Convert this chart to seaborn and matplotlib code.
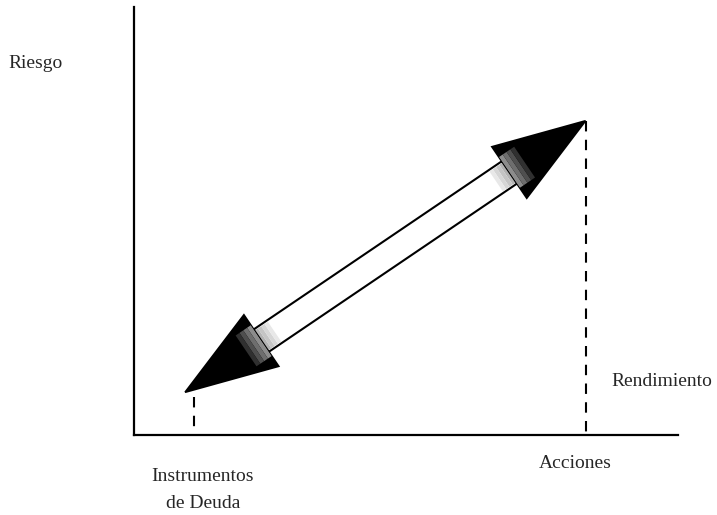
import numpy as np
import pandas as pd
import matplotlib
matplotlib.use('Agg')
import matplotlib.pyplot as plt
import seaborn as sns
from matplotlib.patches import Polygon
from matplotlib.transforms import IdentityTransform

# datos del esquema riesgo / rendimiento
categorias = ["Instrumentos\nde Deuda", "Acciones"]
rendimiento = [1.1, 8.3]      # posicion en el eje x
riesgo = [1.0, 7.34]          # altura de la punta de la flecha
flecha_x = [0.94, 8.3]        # puntas de la flecha doble

sns.set_style("white")
plt.rcParams['font.family'] = ['Liberation Serif', 'DejaVu Serif']

W, H = 717, 515
fig = plt.figure(figsize=(W / 100, H / 100), dpi=100)
ax = fig.add_axes([134 / W, 80 / H, 544 / W, 428 / H])
ax.set_xlim(0, 10)
ax.set_ylim(0, 10)
for s in ["top", "right"]:
    ax.spines[s].set_visible(False)
for s in ["left", "bottom"]:
    ax.spines[s].set_linewidth(1.6)
    ax.spines[s].set_color("black")
ax.set_yticks([])
ax.set_xticks([])

# lineas guia punteadas
guias = pd.DataFrame({
    "x": [rendimiento[0], rendimiento[0], rendimiento[1], rendimiento[1]],
    "y": [riesgo[0] - 0.12, 0.1, riesgo[1], 0.0],
    "g": ["a", "a", "b", "b"],
})
for g, d in guias.groupby("g"):
    sns.lineplot(data=d, x="x", y="y", ax=ax, color="black", lw=1.5,
                 linestyle=(0, (5, 4)), sort=False, estimator=None)
ax.set_xlabel("")
ax.set_ylabel("")

fs = 14
fig.text(8 / W, 1 - 64 / H, "Riesgo", fontsize=fs, va="center")
fig.text(611 / W, 1 - 381 / H, "Rendimiento", fontsize=fs, va="center")
fig.text(203 / W, 1 - 490 / H, categorias[0], fontsize=fs, va="center",
         ha="center", linespacing=1.8)
fig.text(575 / W, 1 - 463 / H, categorias[1], fontsize=fs, va="center", ha="center")

# flecha doble (construida en pixeles a partir de los datos)
fig.canvas.draw()
A = ax.transData.transform((flecha_x[0], riesgo[0]))
B = ax.transData.transform((flecha_x[1], riesgo[1]))
u = (B - A) / np.linalg.norm(B - A)
n = np.array([-u[1], u[0]])
h, w, sw = 92, 31, 13.5
idt = IdentityTransform()

shaft = np.array([A + h * u + sw * n, B - h * u + sw * n,
                  B - h * u - sw * n, A + h * u - sw * n])
ax.add_patch(Polygon(shaft, closed=True, facecolor="white", edgecolor="black",
                     lw=1.5, transform=idt, clip_on=False, zorder=3))
for tip, d in [(A, u), (B, -u)]:
    base = tip + h * d
    # brillo gris en el cuerpo detras de la cabeza
    for k in range(4):
        a0, a1 = 4 * k, 4 * (k + 1)
        glow = np.array([base + a0 * d + (sw - 1.5) * n, base + a1 * d + (sw - 1.5) * n,
                         base + a1 * d - (sw - 1.5) * n, base + a0 * d - (sw - 1.5) * n])
        c = 0.7 + 0.07 * k
        ax.add_patch(Polygon(glow, closed=True, facecolor=(c, c, c), edgecolor="none",
                             transform=idt, clip_on=False, zorder=3.5))
    tri = np.array([tip, base + w * n, base - w * n])
    head = Polygon(tri, closed=True, facecolor="black", edgecolor="black",
                   lw=1.3, transform=idt, clip_on=False, zorder=4)
    ax.add_patch(head)
    # sombreado gris cerca de la base de la cabeza
    for k in range(4):
        t0 = h * (1 - 0.05 * (k + 1))
        t1 = h * (1 - 0.05 * k)
        strip = np.array([tip + t0 * d + 0.6 * w * n, tip + t1 * d + 0.6 * w * n,
                          tip + t1 * d - 0.6 * w * n, tip + t0 * d - 0.6 * w * n])
        c = 0.55 - 0.12 * k
        p = Polygon(strip, closed=True, facecolor=(c, c, c), edgecolor="none",
                    transform=idt, zorder=4.5)
        ax.add_patch(p)
        p.set_clip_path(head)
        p.set_clip_on(True)

fig.savefig("out.png", dpi=100, facecolor="white")
